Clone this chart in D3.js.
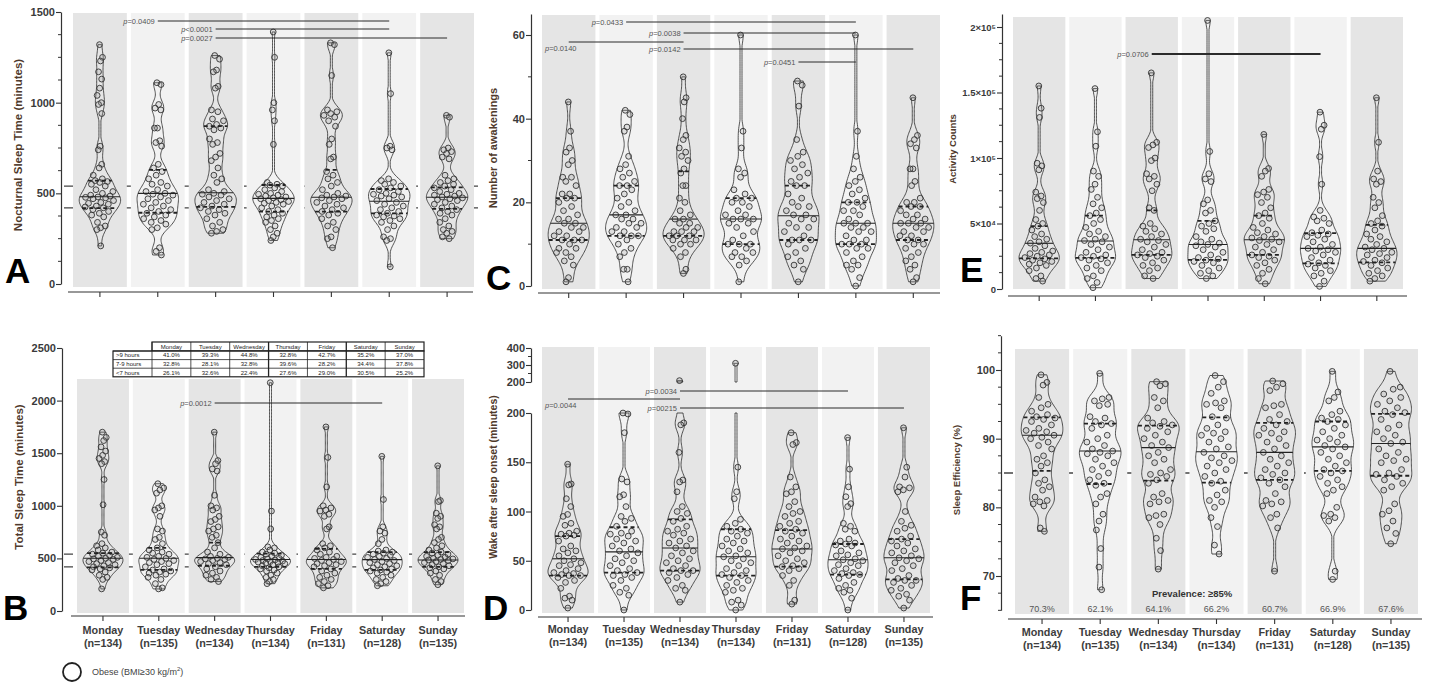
<!DOCTYPE html>
<html>
<head>
<meta charset="utf-8">
<script src="https://cdn.jsdelivr.net/npm/d3@7"></script>
<style>
  body { margin: 0; background: #fff; }
  svg { display: block; }
  text { font-family: "Liberation Sans", Arial, sans-serif; }
</style>
</head>
<body>
<svg id="fig" width="1429" height="687"></svg>
<script>
// ---- data ----
var days = ["Monday", "Tuesday", "Wednesday", "Thursday", "Friday", "Saturday", "Sunday"];
var nCounts = [134, 135, 134, 134, 131, 128, 135];

// A: nocturnal sleep time (minutes)
var nocturnal = [
  [1320,1250,1230,1170,1130,1080,1040,1000,990,940,760,740,660,640,600,580,570,565,560,550,540,520,510,500,490,485,480,478,475,470,460,450,445,440,430,425,420,410,400,390,380,370,340,320,310,300,210],
  [1110,1100,990,970,960,860,860,790,780,760,660,640,620,600,580,560,550,540,520,510,500,495,490,480,470,460,450,440,430,420,410,400,390,380,370,360,350,340,330,310,300,200,180,160],
  [1260,1240,1180,1170,1090,1080,960,950,910,900,880,870,860,850,800,780,770,720,700,680,640,600,580,560,520,510,500,495,490,480,470,460,450,440,430,420,410,400,390,380,360,340,320,300,290,280],
  [1390,1250,1000,960,900,770,560,550,545,540,530,520,510,500,495,490,485,480,475,470,465,460,455,450,445,440,430,420,410,400,390,380,370,360,350,340,320,300,280,260,240],
  [1330,1320,1150,960,950,940,930,920,900,870,800,770,700,690,620,600,580,560,540,520,500,490,485,480,475,470,460,450,440,430,420,410,400,390,380,360,340,320,300,260,250,200],
  [1275,1050,760,750,740,580,570,560,550,540,530,520,510,500,495,490,485,480,470,460,450,440,430,420,410,400,390,380,375,370,360,350,340,320,300,260,250,240,95],
  [930,920,750,740,730,720,700,690,600,580,570,560,550,540,530,520,510,500,495,490,485,480,475,470,465,460,450,440,430,420,410,400,390,380,360,340,320,300,290,280,260,250]
];
var nocturnalQ = [[418,481,570],[393,500,629],[425,503,871],[399,472,546],[399,478,629],[390,456,524],[414,478,533]];

// B: total sleep time (minutes)
var totalSleep = [
  [1700,1650,1620,1560,1520,1480,1450,1420,1400,1250,1010,750,720,640,620,600,580,560,550,540,530,520,510,500,495,490,480,470,460,450,440,430,420,410,400,390,370,340,320,300,210],
  [1210,1170,1150,1120,1000,980,960,900,780,760,700,680,640,600,580,560,550,540,520,510,500,490,480,470,460,450,440,420,400,390,380,370,360,350,340,320,300,260,220,210],
  [1700,1430,1400,1350,1330,1100,1000,980,960,900,870,850,800,780,760,720,700,650,600,560,540,520,510,500,495,490,480,470,460,450,440,420,400,380,360,340,320,300,280],
  [2170,950,780,610,600,580,560,550,540,530,520,510,500,495,490,485,480,475,470,465,460,455,450,440,430,420,410,400,390,380,360,340,320,300,280,260],
  [1750,1460,1180,1000,980,960,950,920,900,800,780,640,620,600,580,560,540,520,510,500,490,480,470,460,450,440,430,420,400,380,360,340,320,300,280,260,240,220],
  [1470,1060,800,760,740,680,640,580,570,560,550,540,530,520,510,500,490,480,470,460,450,440,430,420,410,400,390,380,370,360,340,320,300,280,260,240],
  [1380,1050,1040,930,900,880,820,800,780,700,680,650,620,600,580,560,550,540,530,520,510,500,495,490,485,480,470,460,450,440,430,420,410,400,380,360,340,300,280,250]
];
var totalSleepQ = [[415,501,550],[390,501,600],[430,507,650],[420,490,545],[400,490,590],[390,488,560],[420,485,560]];

// B table: share of nights by sleep duration
var tableRows = [">9 hours", "7-9 hours", "<7 hours"];
var tableValues = [
  ["41.0%","39.3%","44.8%","32.8%","42.7%","35.2%","37.0%"],
  ["32.8%","28.1%","32.8%","39.6%","28.2%","34.4%","37.8%"],
  ["26.1%","32.6%","22.4%","27.6%","29.0%","30.5%","25.2%"]
];

// C: number of awakenings
var awakenings = [
  [44,37,33,32,30,29,26,26,25,24,22,22,21,21,20,19,18,17,16,16,15,15,14,14,13,13,12,12,11,11,11,10,9,9,8,8,7,6,5,2,1],
  [42,41,38,37,31,29,28,27,26,25,24,24,23,22,21,20,19,18,17,17,16,16,15,15,14,14,13,13,12,12,12,11,10,9,8,7,4,4,1],
  [50,45,44,40,36,35,33,32,31,30,28,27,24,24,21,20,18,17,16,16,15,15,14,14,13,13,13,12,12,12,11,11,11,10,10,9,8,7,4,3],
  [60,37,33,28,27,26,23,22,21,21,20,20,19,18,17,17,16,16,16,15,15,14,13,12,11,10,10,10,9,8,8,7,7,6,5,1],
  [49,48,43,35,32,31,30,29,28,27,26,25,24,24,22,21,20,19,19,18,17,17,16,16,15,14,14,13,12,11,11,11,10,9,8,7,6,5,4,1],
  [60,37,31,28,26,25,24,23,22,21,20,20,19,18,18,17,16,15,15,15,14,14,13,13,12,11,11,10,10,10,9,9,8,7,6,5,5,4,2,0],
  [45,36,35,34,33,28,28,25,24,21,20,20,19,19,18,17,17,16,16,15,15,15,14,14,13,13,12,12,11,11,10,10,9,8,7,6,5,4,2,1]
];
var awakeningsQ = [[11,15,21],[12,17,24],[12,16,27.4],[10,16,21],[11,16.8,24],[10,15,20],[11,15,19]];

// D: wake after sleep onset (minutes)
var waso = [
  [148,128,127,113,105,97,95,88,86,80,78,77,76,75,70,65,62,60,58,55,52,50,48,46,45,42,40,38,37,36,35,35,33,30,28,22,14,12,10,2],
  [200,199,180,133,130,117,115,105,95,93,90,85,80,78,77,75,72,70,68,65,62,60,58,55,52,50,48,45,42,40,38,36,35,33,30,25,22,18,15,0],
  [208,190,188,160,132,130,120,105,100,98,93,90,85,82,80,78,76,72,70,68,65,63,60,58,55,52,50,48,45,42,40,40,38,36,33,30,25,22,20,8],
  [310,145,120,113,92,88,85,82,80,78,75,72,70,68,65,62,60,58,55,54,52,50,48,45,42,40,38,36,35,33,30,28,25,22,20,18,10,8,5,0],
  [180,170,168,135,125,120,118,110,105,100,98,95,90,88,85,82,80,78,75,72,70,68,65,63,62,60,58,55,52,50,48,45,44,42,40,35,30,25,10,6],
  [175,143,125,115,108,105,88,85,82,80,72,70,68,67,66,65,60,58,56,55,52,51,50,48,46,45,42,40,38,37,36,35,32,28,25,22,20,18,12,0],
  [185,145,135,125,124,122,120,100,90,86,83,80,75,72,70,68,65,62,60,58,55,53,52,50,48,45,42,40,35,32,30,30,28,25,22,20,16,14,10,2]
];
var wasoQ = [[35,52,75],[38,59,84],[40,63,92],[35,54,82],[44,62,81],[36,51,67],[31,53,72]];

// E: activity counts
var activity = [
  [155000,138000,131000,96000,94000,91000,74000,71000,69000,66000,60000,53000,50000,48000,45000,42000,40000,38000,36000,35000,33000,31000,29000,28000,27000,26000,25000,24000,23000,22000,21000,20000,19000,18000,16000,14000,10000,8000,6000],
  [153000,120000,109000,90000,86000,80000,76000,70000,65000,62000,58000,56000,53000,50000,47000,44000,42000,40000,38000,37000,36000,34000,32000,30000,28000,26000,25000,24000,23000,22000,20000,18000,16000,14000,10000,8000,5000,1000],
  [165000,112000,110000,108000,100000,98000,88000,86000,84000,80000,75000,62000,60000,50000,48000,46000,44000,42000,40000,38000,37000,36000,34000,32000,30000,28000,27000,26000,25000,24000,22000,20000,18000,16000,14000,10000,8000],
  [205000,105000,88000,84000,82000,68000,65000,60000,58000,52000,50000,48000,46000,44000,40000,38000,36000,35000,34000,33000,32000,30000,28000,26000,24000,23000,22000,21000,20000,18000,16000,14000,12000,10000,8000],
  [118000,92000,90000,86000,76000,74000,72000,70000,66000,62000,58000,56000,54000,50000,47000,45000,43000,42000,40000,39000,38000,37000,36000,34000,32000,30000,28000,26000,25000,24000,22000,20000,18000,15000,12000,8000,4000],
  [135000,125000,122000,101000,80000,60000,55000,54000,52000,50000,45000,43000,42000,41000,40000,38000,36000,34000,32000,31000,30000,29000,28000,26000,24000,22000,20000,19000,18000,16000,14000,12000,10000,6000,2000],
  [146000,112000,90000,84000,82000,80000,70000,66000,62000,56000,52000,50000,48000,45000,42000,40000,38000,36000,34000,32000,31000,30000,28000,27000,26000,24000,22000,21000,20000,18000,16000,14000,12000,10000,8000,6000]
];
var activityQ = [[23400,34900,48000],[23700,36600,56000],[26000,37600,60000],[22300,34000,52000],[26000,37600,56000],[19600,31000,42700],[20400,31000,49000]];

// F: sleep efficiency (%)
var efficiency = [
  [99.3,98.2,97.8,96,95,94.5,94,93.5,93.2,93,92.8,92.5,92,91.5,91.2,91,90.8,90.5,90.2,90,89.5,89,88.5,87.5,87,86.5,86,85,84,83.5,83,82.5,81.5,81,80.8,80.5,80.2,77,76.5],
  [99.5,96,95.8,95.5,95,94.8,93.2,93,92.5,92.2,92,91.5,90.5,90,89.5,89,88.5,88.2,88,87.8,87.5,87,86.5,86,85.5,85,84.5,84,83.5,83.2,82,81.5,80.5,79,78,76.7,74,71.3,68],
  [98.3,98,97.7,96,95.5,94.5,93,92.5,92.3,92,91.8,91.5,91,90.5,90,89.5,89,88.7,88,87.5,87,86.5,85.5,85,84.8,84.5,84,83.5,82,81.5,81,80.8,80.5,79,78.8,78.5,77.5,75.5,73.7,71],
  [99.2,98.3,97.5,96.6,95.5,95.2,95,94.5,93.2,93,92,91.5,91,90.8,90.5,90,89.5,88.8,88.5,88,87.5,87.2,86.8,86.5,86,85.5,85,84.5,83.8,83.5,82.5,81.8,81,80.8,80,78.5,77.2,74.5,73.2],
  [98.4,98,97.5,97,95,94.8,94.5,93.5,92.8,92.5,92,91.5,91,90.8,90.5,90,89.5,89,88.5,88,87.5,87,86.5,86,85.5,85,84.8,84.3,84,83.5,83,82,81,80.8,80.5,80.2,79,78.5,77,70.7],
  [99.8,96.8,96,95.5,94,93.5,93,92.8,92.5,92,91.5,91,90.5,90,89.8,89.5,89,88.8,88.5,88,87.5,87,86.5,86,85.5,85.3,85,84.5,84,83.5,83,82.5,82,80,79,78.8,78.5,78,70.7,69.5],
  [99.8,97.5,97.2,96.5,96,95.5,95,94.5,94,93.8,93.5,92.8,92,91.5,91,90.5,90,89.5,89.3,88.5,88,87.5,87,86.8,86.5,85.5,85,84.8,84.5,84,83.5,83,82.5,80.5,79.5,79,78,77,76.2,74.7]
];
var efficiencyQ = [[85.3,90.5,93.1],[83.4,88.2,92.2],[83.9,88.7,91.9],[83.6,88.1,93.1],[84,88,92.3],[85.3,88.8,92.5],[84.6,89.3,93.6]];
var prevalence = ["70.3%","62.1%","64.1%","66.2%","60.7%","66.9%","67.6%"];

// significance brackets: [from day, to day, p text]
var bracketsA = [[1,5,"=0.0409"],[2,5,"<0.0001"],[2,6,"=0.0027"]];
var bracketsB = [[2,5,"=0.0012"]];
var bracketsC = [[1,5,"=0.0433"],[2,5,"=0.0038"],[0,2,"=0.0140"],[2,6,"=0.0142"],[4,5,"=0.0451"]];
var bracketsD = [[2,5,"=0.0034"],[0,2,"=0.0044"],[2,6,"=00215"]];
var bracketsE = [[2,5,"=0.0706"]];

// ---- drawing ----
var svg = d3.select("#fig");
var ink = "#333";
var titleCol = "#4f3a2c";

function minorTicks(lo, hi, step, majors) {
  return d3.range(lo, hi + step / 2, step).filter(function (v) { return majors.indexOf(v) < 0; });
}
function sciFmt(v) {
  if (v === 0) return "0";
  if (v === 50000) return "5\u00d710\u2074";
  return d3.format("")(v / 100000) + "\u00d710\u2075";
}

var yA = d3.scaleLinear().domain([0, 1500]).range([284, 12]);
var yB = d3.scaleLinear().domain([0, 2500]).range([611, 348]);
var yC = d3.scaleLinear().domain([0, 65]).range([286, 286 - 251 * 65 / 60]);
var yDlow = d3.scaleLinear().domain([0, 200]).range([610, 413]);
var yDup = d3.scaleLinear().domain([200, 400]).range([382, 348]);
var yE = d3.scaleLinear().domain([0, 210000]).range([289, 289 - 262 * 1.05]);
var yF = d3.scaleLinear().domain([65, 105]).range([576 + 5 * 6.867, 370 - 5 * 6.867]);

var panels = [
  { letter: "A", letterXY: [5, 283], values: nocturnal, quart: nocturnalQ, bw: 38,
    band: [73, 474], top: 13, bottom: 287, segments: [{ lo: 0, hi: 1500, s: yA }],
    axes: [{ s: yA, major: [0, 500, 1000, 1500], minor: minorTicks(0, 1500, 125, [0, 500, 1000, 1500]) }],
    axisX: 61, xAxisY: 292, xSpan: [68, 473], labels: false,
    title: "Nocturnal Sleep Time (minutes)", titleXY: [18, 145], titleSize: 11.5,
    ref: [420, 540], refSpan: [64, 484], brackets: bracketsA, bracketY: [21, 29, 38], below: [] },
  { letter: "B", letterXY: [3, 620], values: totalSleep, quart: totalSleepQ, bw: 48,
    band: [77, 464], top: 379, bottom: 613, segments: [{ lo: 0, hi: 2500, s: yB }],
    axes: [{ s: yB, major: [0, 500, 1000, 1500, 2000, 2500], minor: [] }],
    axisX: 62, xAxisY: 616, xSpan: [71, 465], labels: true, labelY: 634,
    title: "Total Sleep Time (minutes)", titleXY: [19, 477], titleSize: 11.5,
    ref: [420, 540], refSpan: [64, 466], brackets: bracketsB, bracketY: [403], below: [] },
  { letter: "C", letterXY: [486, 290], values: awakenings, quart: awakeningsQ, bw: 2.1,
    band: [542, 940], top: 15, bottom: 289, segments: [{ lo: 0, hi: 65, s: yC }],
    axes: [{ s: yC, major: [0, 20, 40, 60], minor: [10, 30, 50] }],
    axisX: 531, xAxisY: 293, xSpan: [538, 940], labels: false,
    title: "Number of awakenings", titleXY: [493, 148], titleSize: 11,
    ref: [], brackets: bracketsC, bracketY: [22, 33, 42, 49, 62], below: [2] },
  { letter: "D", letterXY: [483, 620], values: waso, quart: wasoQ, bw: 7.5,
    band: [542, 930], top: 347, bottom: 613,
    segments: [{ lo: 0, hi: 200, s: yDlow }, { lo: 200, hi: 400, s: yDup }],
    axes: [{ s: yDlow, major: [0, 50, 100, 150, 200], minor: [] },
           { s: yDup, major: [200, 300, 400], minor: [250, 350] }],
    axisX: 531, xAxisY: 617, xSpan: [538, 933], labels: true, labelY: 633,
    title: "Wake after sleep onset (minutes)", titleXY: [493, 477], titleSize: 10.5,
    ref: [], brackets: bracketsD, bracketY: [391, 399, 408], below: [1] },
  { letter: "E", letterXY: [960, 282], values: activity, quart: activityQ, bw: 5500,
    band: [1013, 1403], top: 17, bottom: 289, segments: [{ lo: 0, hi: 210000, s: yE }],
    axes: [{ s: yE, major: [0, 50000, 100000, 150000, 200000], minor: minorTicks(0, 200000, 12500, [0, 50000, 100000, 150000, 200000]), fmt: sciFmt, fs: 9.5 }],
    axisX: 1002, xAxisY: 296, xSpan: [1008, 1407], labels: false,
    title: "Activity Counts", titleXY: [953, 149], titleSize: 9.5,
    ref: [], brackets: bracketsE, bracketY: [54], below: [], heavyBracket: true },
  { letter: "F", letterXY: [960, 610], values: efficiency, quart: efficiencyQ, bw: 1.25,
    band: [1015, 1418], top: 349, bottom: 614, segments: [{ lo: 65, hi: 105, s: yF }],
    axes: [{ s: yF, major: [70, 80, 90, 100], minor: minorTicks(65, 105, 2.5, [70, 80, 90, 100]) }],
    axisX: 1001, xAxisY: 619, xSpan: [1008, 1422], labels: true, labelY: 636,
    title: "Sleep Efficiency (%)", titleXY: [957, 470], titleSize: 9.5,
    ref: [85], refSpan: [1004, 1424], brackets: [], bracketY: [], below: [] }
];

panels.forEach(function (p) {
  var g = svg.append("g");
  var x = d3.scaleBand().domain(days).range(p.band).paddingInner(0.07);
  var cxOf = function (i) { return x(days[i]) + x.bandwidth() / 2; };
  var segOf = function (v) {
    for (var k = 0; k < p.segments.length; k++) {
      if (v <= p.segments[k].hi) return p.segments[k].s;
    }
    return p.segments[p.segments.length - 1].s;
  };
  var yMap = function (v) { return segOf(v)(v); };

  // reference lines sit under the day panels
  p.ref.forEach(function (v) {
    g.append("line")
      .attr("x1", p.refSpan[0]).attr("x2", p.refSpan[1])
      .attr("y1", yMap(v)).attr("y2", yMap(v))
      .attr("stroke", "#444").attr("stroke-width", 1.3)
      .attr("stroke-dasharray", "9,6");
  });

  g.selectAll("rect.bg").data(days).join("rect")
    .attr("x", function (d) { return x(d); })
    .attr("y", p.top)
    .attr("width", x.bandwidth())
    .attr("height", p.bottom - p.top)
    .attr("fill", function (d, i) { return i % 2 ? "#f2f2f2" : "#e5e5e5"; });

  // violins
  p.values.forEach(function (vals, i) {
    var cx = cxOf(i);
    var lo = d3.min(vals), hi = d3.max(vals);
    var dens = function (v) {
      return d3.mean(vals, function (t) { var z = (v - t) / p.bw; return Math.exp(-0.5 * z * z); });
    };
    var grid = d3.range(161).map(function (k) { return lo + (hi - lo) * k / 160; });
    var maxD = d3.max(grid, dens);
    var maxHW = x.bandwidth() * 0.385;
    var hw = function (v) { return Math.max(1, dens(v) / maxD * maxHW); };

    p.segments.forEach(function (seg) {
      var a = Math.max(lo, seg.lo), b = Math.min(hi, seg.hi);
      if (b <= a) return;
      var pts = d3.range(141).map(function (k) { return a + (b - a) * k / 140; });
      var area = d3.area()
        .y(function (v) { return seg.s(v); })
        .x0(function (v) { return cx - hw(v); })
        .x1(function (v) { return cx + hw(v); });
      g.append("path").datum(pts)
        .attr("d", area)
        .attr("fill", "none")
        .attr("stroke", "#2b2b2b")
        .attr("stroke-width", 0.8);
    });

    g.append("g").selectAll("circle").data(vals).join("circle")
      .attr("cx", function (v, k) {
        var u = ((k * 0.6180339887 + 0.37) % 1) * 2 - 1;
        return cx + u * hw(v) * 0.8;
      })
      .attr("cy", function (v) { return yMap(v); })
      .attr("r", 2.9)
      .attr("fill", "#9a9a9a").attr("fill-opacity", 0.22)
      .attr("stroke", "#333").attr("stroke-width", 0.9);

    p.quart[i].forEach(function (q, k) {
      g.append("line")
        .attr("x1", cx - hw(q)).attr("x2", cx + hw(q))
        .attr("y1", yMap(q)).attr("y2", yMap(q))
        .attr("stroke", "#222")
        .attr("stroke-width", k === 1 ? 1.1 : 1.8)
        .attr("stroke-dasharray", k === 1 ? null : "4,3");
    });
  });

  // y axes
  p.axes.forEach(function (ax) {
    var a = g.append("g")
      .attr("transform", "translate(" + p.axisX + ",0)")
      .call(d3.axisLeft(ax.s).tickValues(ax.major).tickSizeOuter(0).tickSizeInner(5)
        .tickFormat(ax.fmt || d3.format("d")));
    a.select(".domain").attr("stroke", ink).attr("stroke-width", 1.2);
    a.selectAll(".tick line").attr("stroke", ink).attr("stroke-width", 1.1);
    a.selectAll(".tick text")
      .attr("font-family", "Liberation Sans, Arial, sans-serif")
      .attr("font-size", ax.fs || 11).attr("font-weight", "bold").attr("fill", "#3a3a3a")
      .attr("x", -6);
    a.selectAll("line.minor").data(ax.minor).join("line")
      .attr("class", "minor")
      .attr("x1", -3).attr("x2", 0)
      .attr("y1", function (v) { return ax.s(v); }).attr("y2", function (v) { return ax.s(v); })
      .attr("stroke", ink).attr("stroke-width", 1);
  });

  // x axis
  g.append("line")
    .attr("x1", p.xSpan[0]).attr("x2", p.xSpan[1])
    .attr("y1", p.xAxisY).attr("y2", p.xAxisY)
    .attr("stroke", ink).attr("stroke-width", 1.2);
  g.selectAll("line.xt").data(days).join("line")
    .attr("class", "xt")
    .attr("x1", function (d, i) { return cxOf(i); }).attr("x2", function (d, i) { return cxOf(i); })
    .attr("y1", p.xAxisY).attr("y2", p.xAxisY + 5)
    .attr("stroke", ink).attr("stroke-width", 1.1);

  if (p.labels) {
    var lab = g.selectAll("text.xl").data(days).join("text")
      .attr("class", "xl")
      .attr("text-anchor", "middle")
      .attr("font-size", 10.8).attr("font-weight", "bold").attr("fill", "#3d3d3d");
    lab.append("tspan")
      .attr("x", function (d, i) { return cxOf(i); }).attr("y", p.labelY)
      .text(function (d) { return d; });
    lab.append("tspan")
      .attr("x", function (d, i) { return cxOf(i); }).attr("y", p.labelY + 12.5)
      .text(function (d, i) { return "(n=" + nCounts[i] + ")"; });
  }

  // axis title
  g.append("text")
    .attr("transform", "translate(" + p.titleXY[0] + "," + p.titleXY[1] + ") rotate(-90)")
    .attr("text-anchor", "middle").attr("dy", "0.35em")
    .attr("font-size", p.titleSize).attr("font-weight", "bold").attr("fill", titleCol)
    .text(p.title);

  // panel letter
  g.append("text")
    .attr("x", p.letterXY[0]).attr("y", p.letterXY[1])
    .attr("font-size", 35).attr("font-weight", "bold").attr("fill", "#000")
    .text(p.letter);

  // significance brackets
  p.brackets.forEach(function (b, k) {
    var y = p.bracketY[k];
    var x1 = cxOf(b[0]), x2 = cxOf(b[1]);
    g.append("line")
      .attr("x1", x1).attr("x2", x2).attr("y1", y).attr("y2", y)
      .attr("stroke", "#2b2b2b").attr("stroke-width", p.heavyBracket ? 1.8 : 1);
    var below = p.below.indexOf(k) >= 0;
    var t = g.append("text")
      .attr("x", below ? x(days[0]) + 3 : x1 - 3)
      .attr("y", below ? y + 6 : y)
      .attr("dy", "0.35em")
      .attr("text-anchor", below ? "start" : "end")
      .attr("font-size", 7.5).attr("fill", "#555");
    t.append("tspan").attr("font-style", "italic").text("p");
    t.append("tspan").text(b[2]);
  });
});

// ---- extras: table in B ----
(function () {
  var g = svg.append("g");
  var left = 113, firstCol = 152, right = 424, top = 342;
  var headH = 9, rowH = 8.6;
  var cw = (right - firstCol) / days.length;
  var fs = 6;
  g.append("rect").attr("x", firstCol).attr("y", top).attr("width", right - firstCol).attr("height", headH)
    .attr("fill", "#fff").attr("stroke", "#222").attr("stroke-width", 1.2);
  g.append("rect").attr("x", left).attr("y", top + headH).attr("width", right - left).attr("height", rowH * 3)
    .attr("fill", "#fff").attr("stroke", "#222").attr("stroke-width", 1.2);
  days.forEach(function (d, i) {
    var cx = firstCol + cw * i;
    g.append("line").attr("x1", cx).attr("x2", cx).attr("y1", top).attr("y2", top + headH + rowH * 3)
      .attr("stroke", "#222").attr("stroke-width", i === 3 || i === 5 ? 1.3 : 0.8);
    g.append("text").attr("x", cx + cw / 2).attr("y", top + headH / 2).attr("dy", "0.35em")
      .attr("text-anchor", "middle").attr("font-size", fs).attr("fill", "#222").text(d);
  });
  tableRows.forEach(function (r, j) {
    var y = top + headH + rowH * j;
    g.append("line").attr("x1", left).attr("x2", right).attr("y1", y).attr("y2", y)
      .attr("stroke", "#222").attr("stroke-width", 0.8);
    g.append("text").attr("x", left + 3).attr("y", y + rowH / 2).attr("dy", "0.35em")
      .attr("font-size", fs).attr("fill", "#222").text(r);
    tableValues[j].forEach(function (v, i) {
      g.append("text").attr("x", firstCol + cw * i + cw / 2).attr("y", y + rowH / 2).attr("dy", "0.35em")
        .attr("text-anchor", "middle").attr("font-size", fs).attr("fill", "#222").text(v);
    });
  });
})();

// ---- extras: prevalence row in F ----
(function () {
  var x = d3.scaleBand().domain(days).range([1015, 1418]).paddingInner(0.07);
  svg.append("text").attr("x", 1152).attr("y", 597)
    .attr("font-size", 9.5).attr("font-weight", "bold").attr("fill", "#333")
    .text("Prevalence: \u226585%");
  svg.selectAll("text.prev").data(prevalence).join("text")
    .attr("class", "prev")
    .attr("x", function (d, i) { return x(days[i]) + x.bandwidth() / 2; })
    .attr("y", 612)
    .attr("text-anchor", "middle").attr("font-size", 9).attr("fill", "#555")
    .text(function (d) { return d; });
})();

// ---- legend ----
svg.append("circle").attr("cx", 72).attr("cy", 672).attr("r", 9)
  .attr("fill", "none").attr("stroke", "#222").attr("stroke-width", 1.8);
var lt = svg.append("text").attr("x", 92).attr("y", 675)
  .attr("font-size", 9).attr("fill", "#444");
lt.append("tspan").text("Obese (BMI\u226530 kg/m");
lt.append("tspan").attr("dy", -4).attr("font-size", 6).text("2");
lt.append("tspan").attr("dy", 4).text(")");
</script>
</body>
</html>
